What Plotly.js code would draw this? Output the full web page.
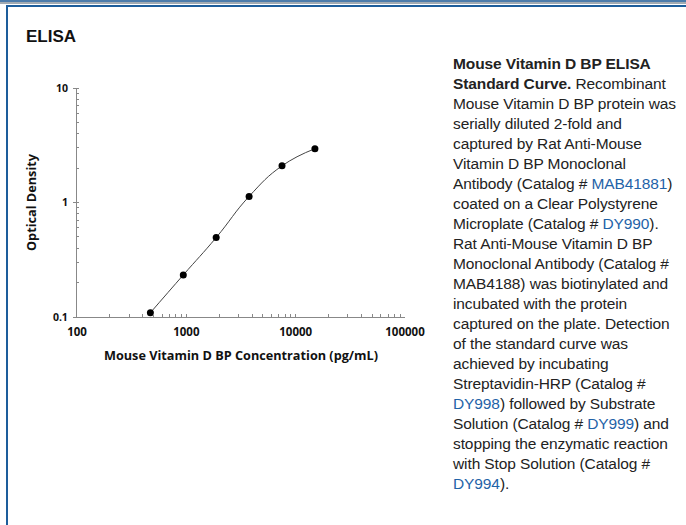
<!DOCTYPE html>
<html>
<head>
<meta charset="utf-8">
<script src="https://cdn.plot.ly/plotly-3.0.1.min.js"></script>
<style>
  html, body { margin: 0; padding: 0; background: #fff; }
  #wrap { position: relative; width: 686px; height: 525px; overflow: hidden; }
  #band1 { position: absolute; left: 0; top: 0; width: 686px; height: 2px; background: #4d7cab; }
  #band2 { position: absolute; left: 0; top: 2px; width: 686px; height: 2px; background: #a2abb3; }
  #topline { position: absolute; left: 6px; top: 5px; width: 680px; height: 2px; background: #1d5d9b; }
  #leftline { position: absolute; left: 6px; top: 5px; width: 2px; height: 520px; background: #1d5d9b; }
  #heading { position: absolute; left: 26px; top: 27px; font-family: "Liberation Sans", Arial, sans-serif; font-weight: bold; font-size: 17px; color: #111; }
  #desc { position: absolute; left: 453px; top: 54px; width: 232px; font-family: "Liberation Sans", Arial, sans-serif; font-size: 15.5px; line-height: 20px; color: #222; white-space: nowrap; letter-spacing: -0.1px; }
  #desc a { color: #1f63a8; text-decoration: none; }
  #plot { position: absolute; left: 0; top: 0; width: 686px; height: 525px; }
</style>
</head>
<body>
<div id="wrap">
  <div id="plot"></div>
  <div id="band1"></div>
  <div id="band2"></div>
  <div id="topline"></div>
  <div id="leftline"></div>
  <div id="heading">ELISA</div>
  <div id="desc"><b>Mouse Vitamin D BP ELISA<br>Standard Curve.</b> Recombinant<br>Mouse Vitamin D BP protein was<br>serially diluted 2-fold and<br>captured by Rat Anti-Mouse<br>Vitamin D BP Monoclonal<br>Antibody (Catalog # <a>MAB41881</a>)<br>coated on a Clear Polystyrene<br>Microplate (Catalog # <a>DY990</a>).<br>Rat Anti-Mouse Vitamin D BP<br>Monoclonal Antibody (Catalog #<br>MAB4188) was biotinylated and<br>incubated with the protein<br>captured on the plate. Detection<br>of the standard curve was<br>achieved by incubating<br>Streptavidin-HRP (Catalog #<br><a>DY998</a>) followed by Substrate<br>Solution (Catalog # <a>DY999</a>) and<br>stopping the enzymatic reaction<br>with Stop Solution (Catalog #<br><a>DY994</a>).</div>
</div>
<script>
// Data
const concentration = [469, 938, 1875, 3750, 7500, 15000];   // pg/mL
const opticalDensity = [0.109, 0.233, 0.494, 1.13, 2.09, 2.95];
const xTickVals = [100, 1000, 10000, 100000];
const xTickText = ["100", "1000", "10000", "100000"];
const yTickVals = [0.1, 1, 10];
const yTickText = ["0.1", "1", "10"];

const chartFont = "'Open Sans', 'DejaVu Sans', sans-serif";

const traces = [{
  x: concentration,
  y: opticalDensity,
  type: "scatter",
  mode: "lines+markers",
  line: { shape: "spline", smoothing: 1.3, color: "#444", width: 1 },
  marker: { color: "#000", size: 7 },
  hoverinfo: "x+y",
  showlegend: false
}];

const layout = {
  width: 686,
  height: 525,
  margin: { l: 77, r: 281, t: 88, b: 208 },
  paper_bgcolor: "rgba(0,0,0,0)",
  plot_bgcolor: "rgba(0,0,0,0)",
  font: { family: chartFont, color: "#111" },
  xaxis: {
    type: "log",
    range: [2, 5],
    showgrid: false,
    zeroline: false,
    showline: true,
    linecolor: "#888",
    linewidth: 1,
    ticks: "inside",
    ticklen: 0,
    tickcolor: "#888",
    tickvals: xTickVals,
    ticktext: xTickText,
    tickfont: { family: chartFont, size: 11.5, color: "#111", weight: "bold" },
    ticklabelstandoff: 4,
    minor: { ticks: "inside", ticklen: 3, tickcolor: "#888", tickwidth: 1, showgrid: false, dtick: "D1" },
    title: { text: "<b>Mouse Vitamin D BP Concentration (pg/mL)</b>", font: { family: chartFont, size: 12.7, color: "#111" }, standoff: 13 },
    automargin: false,
    fixedrange: true
  },
  yaxis: {
    type: "log",
    range: [-1, 1],
    showgrid: false,
    zeroline: false,
    showline: true,
    linecolor: "#888",
    linewidth: 1,
    ticks: "outside",
    ticklen: 3,
    tickcolor: "#888",
    tickvals: yTickVals,
    ticktext: yTickText,
    tickfont: { family: chartFont, size: 10.5, color: "#111", weight: "bold" },
    ticklabelstandoff: 3,
    minor: { ticks: "inside", ticklen: 2, tickcolor: "#888", tickwidth: 1, showgrid: false, dtick: "D1" },
    title: { text: "<b>Optical Density</b>", font: { family: chartFont, size: 12.7, color: "#111" }, standoff: 13 },
    automargin: false,
    fixedrange: true
  }
};

Plotly.newPlot("plot", traces, layout, { displayModeBar: false, staticPlot: true });
</script>
</body>
</html>
